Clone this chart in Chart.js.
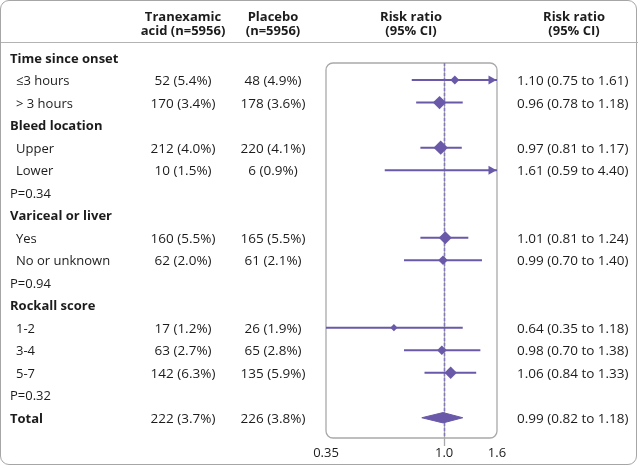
<!DOCTYPE html>
<html>
<head>
<meta charset="utf-8">
<script src="https://cdn.jsdelivr.net/npm/chart.js@4.4.0/dist/chart.umd.min.js"></script>
<style>
    body { margin: 0; background: #fff; }
    #marco { position: relative; width: 640px; height: 468px; font-family: 'Open Sans', 'Noto Sans', sans-serif; color: #1c1c1c; }
    #borde { position: absolute; left: 0; top: 0; width: 635px; height: 463px; border: 1.5px solid #a6a6a6; border-radius: 9px; }
    #lineaCabecera { position: absolute; left: 1px; width: 637px; top: 42px; border-top: 1.5px solid #b3b3b3; }
    canvas { position: absolute; left: 0; top: 0; }
    .t { position: absolute; white-space: nowrap; font-size: 13px; line-height: 15px; transform: translateY(-50%); }
    .c { transform: translate(-50%, -50%); text-align: center; }
    .b { font-weight: bold; }
    .n { font-size: 13.5px; }
</style>
</head>
<body>
<div id="marco">
    <div id="borde"></div>
    <div id="lineaCabecera"></div>
    <canvas id="graficoForest" width="640" height="468"></canvas>
</div>
<script>
// ===================================== Datos ==================
const filas = ["Time since onset", "≤3 hours", "> 3 hours", "Bleed location", "Upper", "Lower", "P=0.34",
    "Variceal or liver", "Yes", "No or unknown", "P=0.94", "Rockall score", "1-2", "3-4", "5-7", "P=0.32", "Total"];
const tipoFila = ["grupo", "sub", "sub", "grupo", "sub", "sub", "p", "grupo", "sub", "sub", "p", "grupo", "sub", "sub", "sub", "p", "total"];

const eventosTx = [null, 52, 170, null, 212, 10, null, null, 160, 62, null, null, 17, 63, 142, null, 222];
const pctTx     = [null, 5.4, 3.4, null, 4.0, 1.5, null, null, 5.5, 2.0, null, null, 1.2, 2.7, 6.3, null, 3.7];
const eventosPl = [null, 48, 178, null, 220, 6, null, null, 165, 61, null, null, 26, 65, 135, null, 226];
const pctPl     = [null, 4.9, 3.6, null, 4.1, 0.9, null, null, 5.5, 2.1, null, null, 1.9, 2.8, 5.9, null, 3.8];

const rr     = [null, 1.10, 0.96, null, 0.97, 1.61, null, null, 1.01, 0.99, null, null, 0.64, 0.98, 1.06, null, 0.99];
const icBajo = [null, 0.75, 0.78, null, 0.81, 0.59, null, null, 0.81, 0.70, null, null, 0.35, 0.70, 0.84, null, 0.82];
const icAlto = [null, 1.61, 1.18, null, 1.17, 4.40, null, null, 1.24, 1.40, null, null, 1.18, 1.38, 1.33, null, 1.18];

const ticksX = [0.35, 1.0, 1.6];
const etiquetasX = ["0.35", "1.0", "1.6"];

const X_MIN = 0.35, X_MAX = 1.6;
const PURPURA = "#6a59a9";


// ===================================== Tamaño del rombo segun eventos ==================
function radio(i) {
    return 2 + Math.sqrt(eventosTx[i] + eventosPl[i]) * 0.25;
}


// ===================================== Datasets ==================
const filasIC = filas.map((_, i) => i).filter(i => rr[i] !== null && tipoFila[i] !== "total");
const filasPunto = filasIC.filter(i => rr[i] >= X_MIN && rr[i] <= X_MAX);
const iTotal = tipoFila.indexOf("total");

const dsLineas = filasIC.map(i => ({
    type: 'line',
    data: [{ x: icBajo[i], y: i }, { x: icAlto[i], y: i }],
    borderColor: PURPURA,
    borderWidth: 2,
    pointRadius: 0,
    order: 2
}));

const dsPuntos = {
    type: 'scatter',
    data: filasPunto.map(i => ({ x: rr[i], y: i })),
    pointStyle: 'rectRot',
    pointRadius: filasPunto.map(i => radio(i)),
    backgroundColor: PURPURA,
    borderColor: PURPURA,
    borderWidth: 0,
    order: 0
};

const dsTotal = {
    type: 'line',
    data: [
        { x: icBajo[iTotal], y: iTotal },
        { x: rr[iTotal], y: iTotal - 0.23 },
        { x: icAlto[iTotal], y: iTotal },
        { x: rr[iTotal], y: iTotal + 0.23 },
        { x: icBajo[iTotal], y: iTotal }
    ],
    fill: 'shape',
    backgroundColor: PURPURA,
    borderColor: PURPURA,
    borderWidth: 1,
    pointRadius: 0,
    tension: 0,
    order: 1
};


// ===================================== Caja, linea de no efecto y flechas ==================
const pluginForest = {
    id: 'forest',
    beforeDatasetsDraw(chart) {
        const { ctx, chartArea: a, scales: { x } } = chart;
        ctx.save();
        ctx.strokeStyle = '#a9a9a9';
        ctx.lineWidth = 1.3;
        ctx.beginPath();
        ctx.roundRect(a.left, a.top, a.right - a.left, a.bottom - a.top, 7);
        ctx.stroke();

        const x1 = Math.round(x.getPixelForValue(1)) + 0.5;
        ctx.beginPath();
        ctx.moveTo(x1, a.top);
        ctx.lineTo(x1, a.bottom + 8);
        ctx.stroke();

        ctx.strokeStyle = '#8378bd';
        ctx.lineWidth = 1.5;
        ctx.setLineDash([3, 2]);
        ctx.beginPath();
        ctx.moveTo(x1, a.top);
        ctx.lineTo(x1, a.bottom);
        ctx.stroke();
        ctx.restore();
    },
    afterDatasetsDraw(chart) {
        const { ctx, chartArea: a, scales: { y } } = chart;
        ctx.save();
        ctx.fillStyle = PURPURA;
        filasIC.filter(i => icAlto[i] > X_MAX).forEach(i => {
            const py = y.getPixelForValue(i);
            const px = a.right - 0.5;
            ctx.beginPath();
            ctx.moveTo(px, py);
            ctx.lineTo(px - 8, py - 4.5);
            ctx.lineTo(px - 8, py + 4.5);
            ctx.closePath();
            ctx.fill();
        });
        ctx.restore();
    }
};


// ===================================== Grafico ==================
const grafico = new Chart(document.getElementById("graficoForest"), {
    type: 'scatter',
    data: { datasets: [dsPuntos, dsTotal, ...dsLineas] },
    options: {
        responsive: false,
        animation: false,
        events: [],
        layout: { padding: { left: 326, right: 143, top: 63, bottom: 8 } },
        plugins: { legend: { display: false }, tooltip: { enabled: false } },
        scales: {
            x: {
                type: 'logarithmic',
                min: X_MIN,
                max: X_MAX,
                bounds: 'data',
                grid: { display: false },
                border: { display: false },
                afterBuildTicks: s => { s.ticks = ticksX.map(v => ({ value: v })); },
                afterFit: s => { s.height = 22; },
                ticks: {
                    autoSkip: false,
                    maxRotation: 0,
                    padding: -1,
                    color: '#1c1c1c',
                    font: { family: 'Open Sans', size: 13 },
                    callback: (v, idx) => etiquetasX[idx]
                }
            },
            y: { type: 'linear', reverse: true, min: 0.24, max: 16.9, display: false }
        }
    },
    plugins: [pluginForest]
});


// ===================================== Textos de la tabla ==================
const marco = document.getElementById("marco");

function agregarTexto(texto, x, y, clases) {
    const d = document.createElement("div");
    d.className = "t " + clases;
    d.style.left = x + "px";
    d.style.top = y + "px";
    d.textContent = texto;
    marco.appendChild(d);
}

// cabeceras
agregarTexto("Tranexamic", 183, 16, "c b");
agregarTexto("acid (n=5956)", 183, 30, "c b");
agregarTexto("Placebo", 273, 16, "c b");
agregarTexto("(n=5956)", 273, 30, "c b");
agregarTexto("Risk ratio", 411, 16, "c b");
agregarTexto("(95% CI)", 411, 30, "c b");
agregarTexto("Risk ratio", 574, 16, "c b");
agregarTexto("(95% CI)", 574, 30, "c b");

const yEsc = grafico.scales.y;
filas.forEach((f, i) => {
    const y = yEsc.getPixelForValue(i);
    const tipo = tipoFila[i];
    agregarTexto(f, tipo === "sub" ? 16 : 10, y, (tipo === "grupo" || tipo === "total") ? "b" : "");
    if (eventosTx[i] !== null) {
        agregarTexto(eventosTx[i] + " (" + pctTx[i].toFixed(1) + "%)", 183, y, "c n");
        agregarTexto(eventosPl[i] + " (" + pctPl[i].toFixed(1) + "%)", 273, y, "c n");
    }
    if (rr[i] !== null) {
        agregarTexto(rr[i].toFixed(2) + " (" + icBajo[i].toFixed(2) + " to " + icAlto[i].toFixed(2) + ")", 517, y, "n");
    }
});
</script>
</body>
</html>
